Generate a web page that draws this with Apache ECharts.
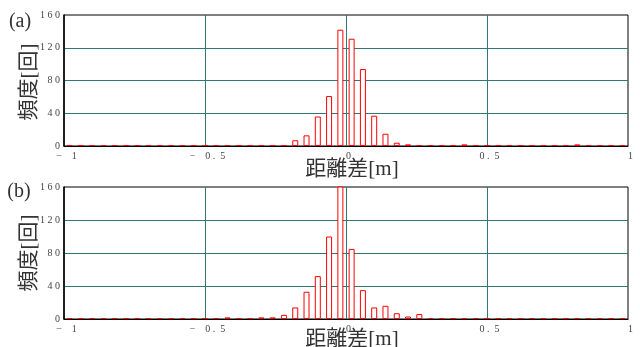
<!DOCTYPE html>
<html><head><meta charset="utf-8">
<script src="https://cdn.jsdelivr.net/npm/echarts@6/dist/echarts.min.js"></script>
<style>html,body{margin:0;padding:0;background:#fff}#c{width:640px;height:347px}</style>
</head><body><div id="c"></div><script>
// histogram bin centres (bin width 0.04)
const binCenters = [
  -0.98,-0.94,-0.90,-0.86,-0.82,-0.78,-0.74,-0.70,-0.66,-0.62,
  -0.58,-0.54,-0.50,-0.46,-0.42,-0.38,-0.34,-0.30,-0.26,-0.22,
  -0.18,-0.14,-0.10,-0.06,-0.02, 0.02, 0.06, 0.10, 0.14, 0.18,
   0.22, 0.26, 0.30, 0.34, 0.38, 0.42, 0.46, 0.50, 0.54, 0.58,
   0.62, 0.66, 0.70, 0.74, 0.78, 0.82, 0.86, 0.90, 0.94, 0.98
];
const countsA = [
  0,0,0,0,0,0,0,0,0,0,
  0,1,0,0,0,0,0,0,0,1,
  7,13,36,61,142,131,94,37,15,4,
  2,1,0,1,0,2,0,0,0,0,
  0,0,0,0,0,2,0,0,0,0
];
const countsB = [
  0,0,0,0,0,0,0,0,0,0,
  0,0,0,0,2,0,0,2,2,5,
  14,33,52,100,175,85,35,14,16,7,
  3,6,1,0,0,0,0,0,1,0,
  0,0,0,0,0,0,0,0,0,0
];
const xTicks = [-1, -0.5, 0, 0.5, 1];
const xTickLabels = ['\u22121', '\u22120.5', '0', '0.5', '1'];
const yTicks = [0, 40, 80, 120, 160];
const yTickLabels = ['0', '40', '80', '120', '160'];
const panelLabels = ['(a)', '(b)'];
const xTitle = '距離差[m]';
const yTitle = '頻度[回]';

function spaced(s) {
  let out = '';
  for (const c of s) {
    if (c === '\u2212') out += c + '    ';
    else if (c === '.') out += c + '  ';
    else out += c + ' ';
  }
  return out.replace(/\s+$/, '');
}
function xFmt(v) {
  const i = xTicks.findIndex(t => Math.abs(t - v) < 1e-9);
  return i < 0 ? '' : spaced(xTickLabels[i]);
}
function yFmt(v) {
  const i = yTicks.findIndex(t => Math.abs(t - v) < 1e-9);
  return i < 0 ? '' : spaced(yTickLabels[i]);
}

const gridColor = '#2f7878';
const labelFont = 'Liberation Serif';
const titleFont = "'Liberation Serif','Noto Sans CJK JP'";

const grids = [
  {left: 64, top: 15, width: 564, height: 131},
  {left: 64, top: 187, width: 564, height: 132}
].map(g => Object.assign(g, {show: true, borderColor: '#000', borderWidth: 1, backgroundColor: 'rgba(0,0,0,0)'}));

function xAxis(i) {
  return {
    type: 'value', gridIndex: i, min: -1, max: 1, interval: 0.5,
    axisLine: {show: true, onZero: false, lineStyle: {color: '#000', width: 1}},
    axisTick: {show: false},
    axisLabel: {formatter: xFmt, fontFamily: labelFont, fontSize: 10, color: '#444', margin: 5, padding: [0, 0, 0, 5]},
    splitLine: {show: true, showMinLine: false, showMaxLine: false, lineStyle: {color: gridColor, width: 1}}
  };
}
function yAxis(i) {
  return {
    type: 'value', gridIndex: i, min: 0, max: 160, interval: 40,
    axisLine: {show: true, onZero: false, lineStyle: {color: '#000', width: 1.5}},
    axisTick: {show: false},
    axisLabel: {formatter: yFmt, fontFamily: labelFont, fontSize: 10, color: '#444', margin: 4},
    splitLine: {show: true, showMinLine: false, showMaxLine: false, lineStyle: {color: gridColor, width: 1}}
  };
}
function barSeries(i, counts) {
  return {
    type: 'bar', xAxisIndex: i, yAxisIndex: i,
    data: binCenters.map((x, k) => [x, counts[k]]),
    barWidth: 6, barMinHeight: 1, clip: true, z: 3,
    itemStyle: {color: '#fff', borderColor: '#ff0000', borderWidth: 1},
    emphasis: {disabled: true}
  };
}

const titleStyle = (text, x, y, size) => ({
  type: 'text', x: x, y: y, z: 10,
  style: {text: text, font: size + 'px ' + titleFont, fill: '#333', textAlign: 'center', textVerticalAlign: 'middle'}
});

const graphic = [
  titleStyle(panelLabels[0], 20, 22, 20),
  titleStyle(panelLabels[1], 19, 192, 20),
  titleStyle(xTitle, 352, 169, 21),
  titleStyle(xTitle, 352, 339, 21),
  Object.assign(titleStyle(yTitle, 29, 82, 21), {rotation: Math.PI / 2}),
  Object.assign(titleStyle(yTitle, 29, 253, 21), {rotation: Math.PI / 2})
];

const chart = echarts.init(document.getElementById('c'), null, {renderer: 'canvas'});
chart.setOption({
  animation: false,
  grid: grids,
  xAxis: [xAxis(0), xAxis(1)],
  yAxis: [yAxis(0), yAxis(1)],
  series: [barSeries(0, countsA), barSeries(1, countsB)],
  graphic: graphic
});
</script></body></html>
